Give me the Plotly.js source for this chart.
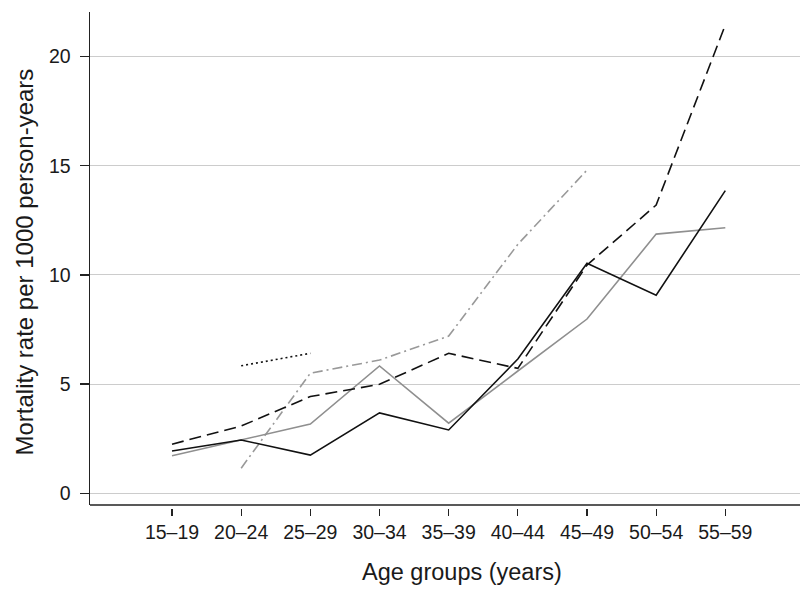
<!DOCTYPE html>
<html>
<head>
<meta charset="utf-8">
<script src="https://cdn.plot.ly/plotly-3.0.1.min.js"></script>
<style>html,body{margin:0;padding:0;background:#fff;}#chart{width:800px;height:596px;}</style>
</head>
<body>
<div id="chart"></div>
<script>
const ageGroups = ["15–19","20–24","25–29","30–34","35–39","40–44","45–49","50–54","55–59"];
const tickIndex = [0,1,2,3,4,5,6,7,8];
const seriesBlackSolid = [1.94, 2.44, 1.75, 3.68, 2.90, 6.15, 10.53, 9.07, 13.86];
const seriesGraySolid  = [1.72, 2.44, 3.17, 5.83, 3.21, 5.60, 7.98, 11.87, 12.16];
const seriesBlackDash  = [2.25, 3.08, 4.43, 4.99, 6.41, 5.72, 10.45, 13.20, 21.45];
const seriesGrayDashDot = [null, 1.15, 5.50, 6.10, 7.20, 11.40, 14.80, null, null];
const seriesBlackDot   = [null, 5.84, 6.41, null, null, null, null, null, null];
const yTicks = [0, 5, 10, 15, 20];

const traces = [
  {y: seriesGrayDashDot, color: '#999999', dash: '10px,4px,2px,4px'},
  {y: seriesGraySolid, color: '#8f8f8f', dash: 'solid'},
  {y: seriesBlackDash, color: '#111111', dash: '12px,6px'},
  {y: seriesBlackSolid, color: '#111111', dash: 'solid'},
  {y: seriesBlackDot, color: '#111111', dash: '2px,3px'}
].map(s => ({
  type: 'scatter', mode: 'lines', x: tickIndex, y: s.y,
  line: {color: s.color, width: 1.6, dash: s.dash},
  connectgaps: false, showlegend: false, hoverinfo: 'skip'
}));

const plotH = 496; // 12..508
const layout = {
  width: 800, height: 596,
  margin: {l: 90, r: 0, t: 12, b: 88},
  paper_bgcolor: '#ffffff', plot_bgcolor: '#ffffff',
  font: {family: '"Liberation Sans", Arial, Helvetica, sans-serif', color: '#1a1a1a', size: 19.5},
  xaxis: {
    range: [-1.186, 9.08],
    anchor: 'free', position: 0,
    tickmode: 'array', tickvals: tickIndex, ticktext: ageGroups,
    ticks: 'outside', ticklen: 7, tickwidth: 1.3, tickcolor: '#222',
    showgrid: false, zeroline: false, showline: false,
    tickfont: {size: 19.5}
  },
  yaxis: {
    domain: [3/plotH, 1],
    range: [-0.536, 22.04],
    tickmode: 'array', tickvals: yTicks,
    ticks: 'outside', ticklen: 9, tickwidth: 1.3, tickcolor: '#222',
    ticklabelstandoff: 5,
    showgrid: true, gridcolor: '#cccccc', gridwidth: 1,
    zeroline: false, showline: true, linecolor: '#222', linewidth: 1.5,
    tickfont: {size: 19.5}
  },
  shapes: [
    {type: 'line', xref: 'paper', yref: 'paper', x0: 0, x1: 1, y0: 3/plotH, y1: 3/plotH,
     line: {color: '#222', width: 1.5}}
  ],
  annotations: [
    {text: 'Age groups (years)', xref: 'paper', yref: 'paper',
     x: (462 - 90) / 710, y: (508 - 572) / plotH, xanchor: 'center', yanchor: 'middle',
     showarrow: false, font: {size: 23.5}},
    {text: 'Mortality rate per 1000 person-years', xref: 'paper', yref: 'paper',
     x: (24 - 90) / 710, y: (508 - 262.5) / plotH, xanchor: 'center', yanchor: 'middle',
     textangle: -90, showarrow: false, font: {size: 24}}
  ]
};

Plotly.newPlot('chart', traces, layout, {staticPlot: true, displayModeBar: false});
</script>
</body>
</html>
